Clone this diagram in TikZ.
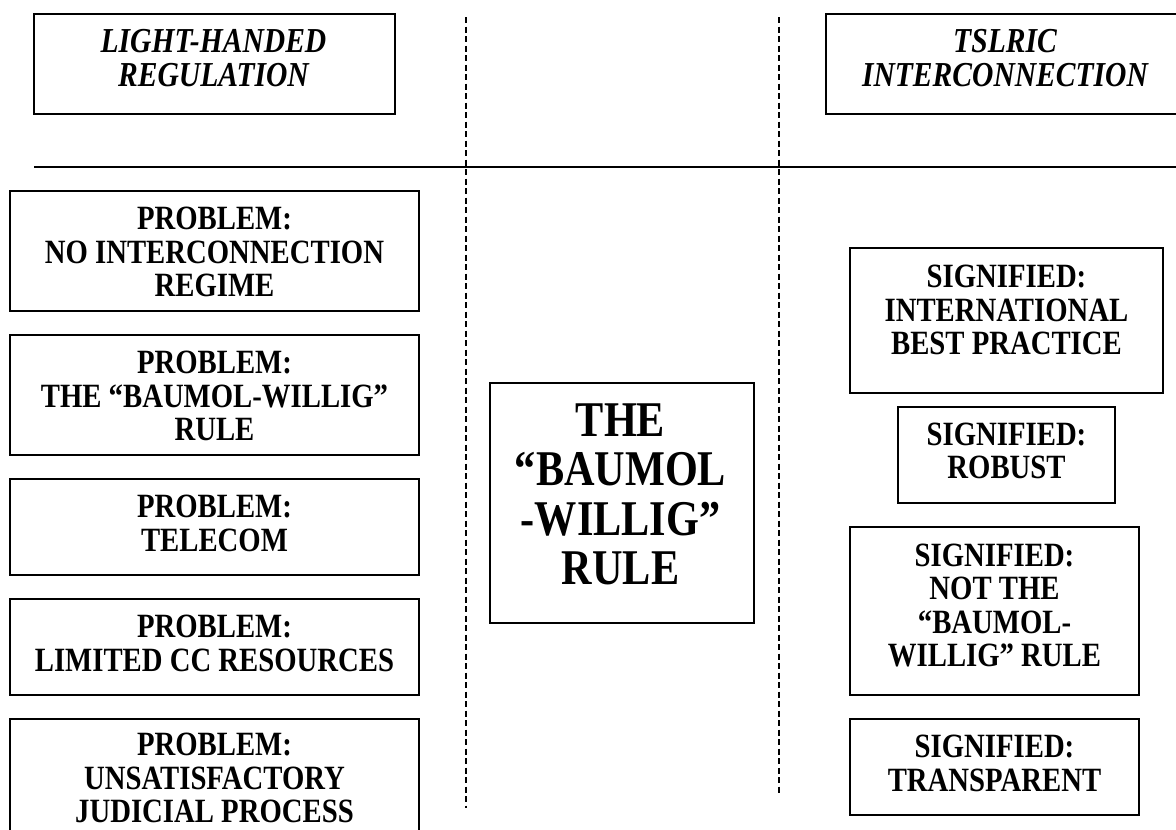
\documentclass[tikz,border=0pt]{standalone}
\usepackage{fontspec}
\setmainfont{Liberation Serif}
\newfontfamily\tallserif[FakeStretch=0.845]{Liberation Serif}
\begin{document}
\begin{tikzpicture}[x=1pt,y=-1pt,
  box/.style={draw=black,line width=1.8pt,fill=none,inner sep=0pt,rectangle},
  ttext/.style={inner sep=0pt,align=center,font=\tallserif\fontsize{35}{34}\selectfont\bfseries\itshape},
  ptext/.style={inner sep=0pt,align=center,font=\tallserif\fontsize{34}{33.5}\selectfont\bfseries},
  mtext/.style={inner sep=0pt,align=center,font=\tallserif\fontsize{50}{49.3}\selectfont\bfseries},
  divider/.style={line width=1.6pt,dash pattern=on 6pt off 3.5pt},
  rule/.style={line width=1.8pt}]
\useasboundingbox (0,0) rectangle (1176,830);
% top title boxes
\node[box,minimum width=361pt,minimum height=100pt] (lt) at (214.5,64) {};
\node[ttext] (ltt) at (213.5,58.5) {LIGHT-HANDED\\REGULATION};
\node[box,minimum width=364pt,minimum height=100pt] (rt) at (1008,64) {};
\node[ttext] (rtt) at (1005,58.5) {TSLRIC\\INTERCONNECTION};
% horizontal rule
\coordinate (hl) at (34,167);
\coordinate (hr) at (1176,167);
\draw[rule] (hl) -- (hr);
% dashed dividers
\coordinate (d1t) at (466,17);
\coordinate (d1b) at (466,808);
\coordinate (d2t) at (779,17);
\coordinate (d2b) at (779,794);
\draw[divider] (d1t) -- (d1b);
\draw[divider] (d2t) -- (d2b);
% problem boxes
\node[box,minimum width=409pt,minimum height=120pt] (p1) at (214.5,251) {};
\node[ptext] (p1t) at (214.5,252) {PROBLEM:\\NO INTERCONNECTION\\REGIME};
\node[box,minimum width=409pt,minimum height=120pt] (p2) at (214.5,395) {};
\node[ptext] (p2t) at (214.5,396) {PROBLEM:\\THE “BAUMOL-WILLIG”\\RULE};
\node[box,minimum width=409pt,minimum height=96pt] (p3) at (214.5,527) {};
\node[ptext] (p3t) at (214.5,523.5) {PROBLEM:\\TELECOM};
\node[box,minimum width=409pt,minimum height=96pt] (p4) at (214.5,647) {};
\node[ptext] (p4t) at (214.5,643.5) {PROBLEM:\\LIMITED CC RESOURCES};
\node[box,minimum width=409pt,minimum height=140pt] (p5) at (214.5,789) {};
\node[ptext] (p5t) at (214.5,778) {PROBLEM:\\UNSATISFACTORY\\JUDICIAL PROCESS};
% middle box
\node[box,minimum width=264pt,minimum height=240pt] (mid) at (622,503) {};
\node[mtext] (midt) at (620.5,494.5) {THE\\“BAUMOL\\-WILLIG”\\RULE};
% signified boxes
\node[box,minimum width=313pt,minimum height=145pt] (s1) at (1006.5,320.5) {};
\node[ptext] (s1t) at (1006.5,310) {SIGNIFIED:\\INTERNATIONAL\\BEST PRACTICE};
\node[box,minimum width=217pt,minimum height=96pt] (s2) at (1006.5,455) {};
\node[ptext] (s2t) at (1006.5,451) {SIGNIFIED:\\ROBUST};
\node[box,minimum width=289pt,minimum height=168pt] (s3) at (994.5,611) {};
\node[ptext] (s3t) at (994.5,605.5) {SIGNIFIED:\\NOT THE\\“BAUMOL-\\WILLIG” RULE};
\node[box,minimum width=289pt,minimum height=96pt] (s4) at (994.5,767) {};
\node[ptext] (s4t) at (994.5,763.5) {SIGNIFIED:\\TRANSPARENT};
\end{tikzpicture}
\end{document}
